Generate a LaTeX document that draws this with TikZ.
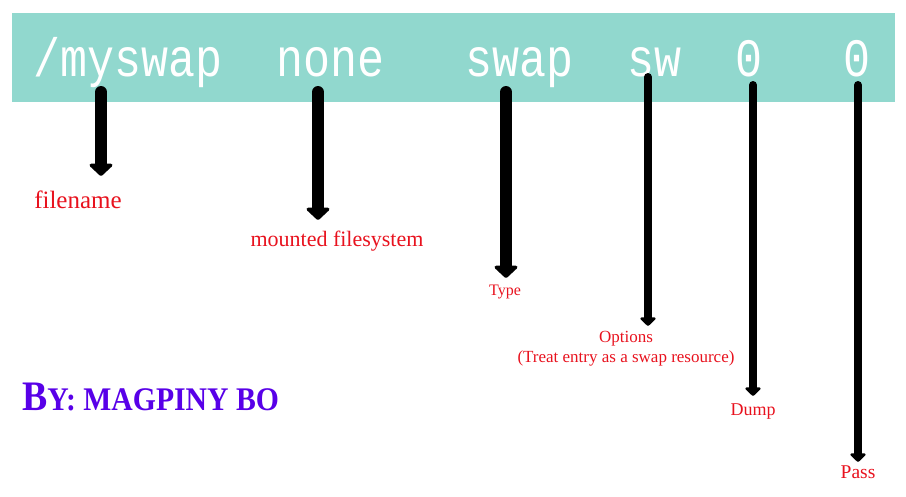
\documentclass[tikz,border=0pt]{standalone}
\usepackage{fontspec}
\setmainfont{Liberation Serif}
\newfontfamily\monofont{Liberation Mono}
\usetikzlibrary{arrows.meta}
\definecolor{band}{RGB}{145,216,206}
\definecolor{labred}{RGB}{232,18,30}
\definecolor{byblue}{RGB}{88,0,232}
\tikzset{
  thickarrow/.style={line width=12pt, line cap=round, -{Triangle[width=27pt,length=13pt,round]}},
  thinarrow/.style={line width=8pt, line cap=round, -{Triangle[width=18pt,length=9pt,round]}},
  lab/.style={text=labred, anchor=base, inner sep=0pt},
}
\begin{document}
\begin{tikzpicture}[x=1pt,y=1pt]
\useasboundingbox (0,0) rectangle (906,-496);
\fill[band] (12,-13) rectangle (895,-102);
\node[anchor=base west, inner sep=0pt, text=white] (cmd) at (33,-76)
  {\scalebox{1}[1.2]{\fontsize{45}{50}\monofont /myswap\ \ none\ \ \ swap\ \ sw\ \ 0\ \ \ 0}};
% labels
\node[lab, font=\fontsize{25}{28}\selectfont] (l1) at (78,-208) {filename};
\node[lab, font=\fontsize{22}{26}\selectfont] (l2) at (337,-246) {mounted filesystem};
\node[lab, font=\fontsize{16}{18}\selectfont] (l3) at (505,-295) {Type};
\node[lab, font=\fontsize{17}{20}\selectfont] (l4) at (626,-342) {Options};
\node[lab, font=\fontsize{17}{20}\selectfont] (l4b) at (626,-362) {(Treat entry as a swap resource)};
\node[lab, font=\fontsize{18}{21}\selectfont] (l5) at (753,-415) {Dump};
\node[lab, font=\fontsize{19.5}{22}\selectfont] (l6) at (858,-478) {Pass};
% arrows
\coordinate (s1) at (101,-92);  \coordinate (t1) at (101,-176);
\coordinate (s2) at (318,-92);  \coordinate (t2) at (318,-220);
\coordinate (s3) at (506,-92);  \coordinate (t3) at (506,-278);
\coordinate (s4) at (648,-77);  \coordinate (t4) at (648,-326);
\coordinate (s5) at (753,-85);  \coordinate (t5) at (753,-396);
\coordinate (s6) at (858,-85);  \coordinate (t6) at (858,-462);
\draw[thickarrow] (s1) -- (t1);
\draw[thickarrow] (s2) -- (t2);
\draw[thickarrow] (s3) -- (t3);
\draw[thinarrow] (s4) -- (t4);
\draw[thinarrow] (s5) -- (t5);
\draw[thinarrow] (s6) -- (t6);
% byline
\node[anchor=base west, inner sep=0pt, text=byblue] (by) at (22,-410)
  {\scalebox{0.9}[1]{\bfseries\fontsize{42}{46}\selectfont B\fontsize{33}{36}\selectfont Y: MAGPINY BO}};
\end{tikzpicture}
\end{document}
